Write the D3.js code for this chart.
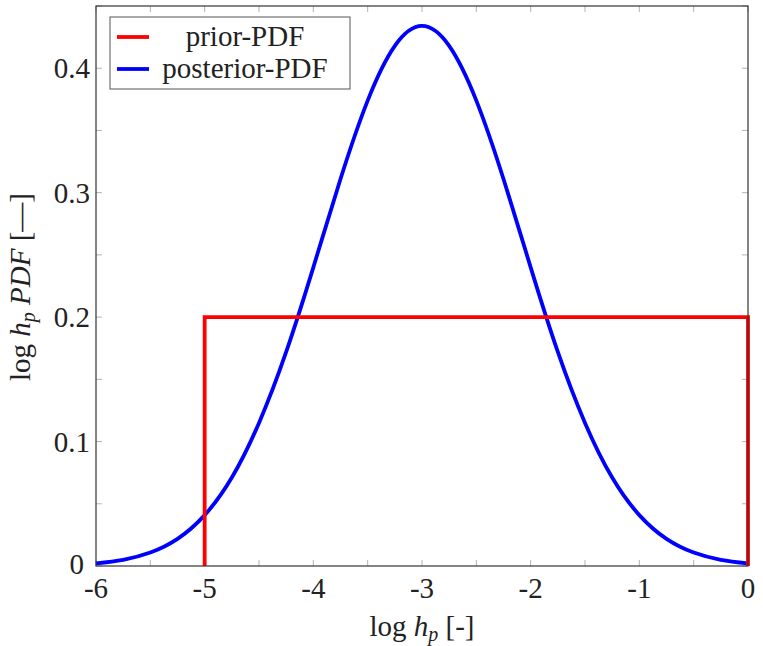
<!DOCTYPE html>
<html><head><meta charset="utf-8">
<script src="https://cdn.jsdelivr.net/npm/d3@7"></script>
<style>body{margin:0;background:#fff}svg text{font-family:"Liberation Serif","Times New Roman",serif;fill:#222}</style>
</head><body><svg id="c" width="763" height="646"></svg>
<script>
const xTicks = [-6,-5,-4,-3,-2,-1,0];
const yTicks = [0,0.1,0.2,0.3,0.4];
const priorX = [-5,-5,0,0];
const priorY = [0,0.2,0.2,0];
const postX = [-6,-5.75,-5.5,-5.25,-5,-4.75,-4.5,-4.25,-4,-3.75,-3.5,-3.25,-3,-2.75,-2.5,-2.25,-2,-1.75,-1.5,-1.25,-1,-0.75,-0.5,-0.25,0];
const postY = [0.0021,0.0050,0.0108,0.0218,0.0409,0.0711,0.115,0.172,0.240,0.311,0.374,0.418,0.434,0.418,0.374,0.311,0.240,0.172,0.115,0.0711,0.0409,0.0218,0.0108,0.0050,0.0021];
const seriesNames = ["prior-PDF","posterior-PDF"];
const seriesColors = ["#ff0000","#0000ff"];

const svg = d3.select("#c");
const L=96,R=748,T=6,B=566;
const x = d3.scaleLinear().domain([-6,0]).range([L,R]);
const y = d3.scaleLinear().domain([0,0.45]).range([B,T]);
const tickCol="#b3b3b3";
const minorX = d3.range(-6,0.001,0.5), minorY = d3.range(0,0.451,0.05);

const g = svg.append("g");
g.selectAll(".tb").data(minorX).join("line").attr("x1",d=>x(d)).attr("x2",d=>x(d)).attr("y1",B).attr("y2",B-6).attr("stroke",tickCol);
g.selectAll(".tt").data(minorX).join("line").attr("x1",d=>x(d)).attr("x2",d=>x(d)).attr("y1",T).attr("y2",T+6).attr("stroke",tickCol);
g.selectAll(".tl").data(minorY).join("line").attr("y1",d=>y(d)).attr("y2",d=>y(d)).attr("x1",L).attr("x2",L+6).attr("stroke",tickCol);
g.selectAll(".tr").data(minorY).join("line").attr("y1",d=>y(d)).attr("y2",d=>y(d)).attr("x1",R).attr("x2",R-6).attr("stroke",tickCol);

svg.append("path").datum(postX.map((v,i)=>[v,postY[i]]))
  .attr("d",d3.line().x(d=>x(d[0])).y(d=>y(d[1])).curve(d3.curveNatural))
  .attr("fill","none").attr("stroke",seriesColors[1]).attr("stroke-width",3.8).attr("stroke-linejoin","round");
svg.append("path").datum(priorX.map((v,i)=>[v,priorY[i]]))
  .attr("d",d3.line().x(d=>x(d[0])).y(d=>y(d[1])))
  .attr("fill","none").attr("stroke",seriesColors[0]).attr("stroke-width",3.8);

svg.append("rect").attr("x",L).attr("y",T).attr("width",R-L).attr("height",B-T).attr("fill","none").attr("stroke","#333").attr("stroke-width",1.2);

svg.selectAll(".xl").data(xTicks).join("text").attr("x",d=>x(d)).attr("y",B+32).attr("text-anchor","middle").attr("font-size",29).text(d=>String(d));
svg.selectAll(".yl").data(yTicks).join("text").attr("x",d=>L-(d===0?12:6)).attr("y",d=>y(d)+(d===0?8:10)).attr("text-anchor","end").attr("font-size",29).text(d=>d===0?"0":d3.format(".1f")(d));

const xl = svg.append("text").attr("x",422).attr("y",636).attr("text-anchor","middle").attr("font-size",29);
xl.append("tspan").text("log ");
xl.append("tspan").attr("font-style","italic").text("h");
xl.append("tspan").attr("font-style","italic").attr("font-size",20).attr("dy",5).text("p");
xl.append("tspan").attr("dy",-5).text(" [-]");

const yl = svg.append("text").attr("transform","translate(30,287) rotate(-90)").attr("text-anchor","middle").attr("font-size",29);
yl.append("tspan").text("log ");
yl.append("tspan").attr("font-style","italic").text("h");
yl.append("tspan").attr("font-style","italic").attr("font-size",20).attr("dy",5).text("p");
yl.append("tspan").attr("dy",-5).attr("font-style","italic").text(" PDF");
yl.append("tspan").text(" [\u2014]");

const lg = svg.append("g");
lg.append("rect").attr("x",110).attr("y",17).attr("width",240).attr("height",72).attr("fill","#fff").attr("stroke","#555").attr("stroke-width",1);
seriesNames.forEach((n,i)=>{
  const yy = 37 + i*32;
  lg.append("line").attr("x1",117).attr("x2",149).attr("y1",yy).attr("y2",yy).attr("stroke",seriesColors[i]).attr("stroke-width",3.8);
  lg.append("text").attr("x",245).attr("y",yy+9).attr("text-anchor","middle").attr("font-size",29).text(n);
});
</script></body></html>
